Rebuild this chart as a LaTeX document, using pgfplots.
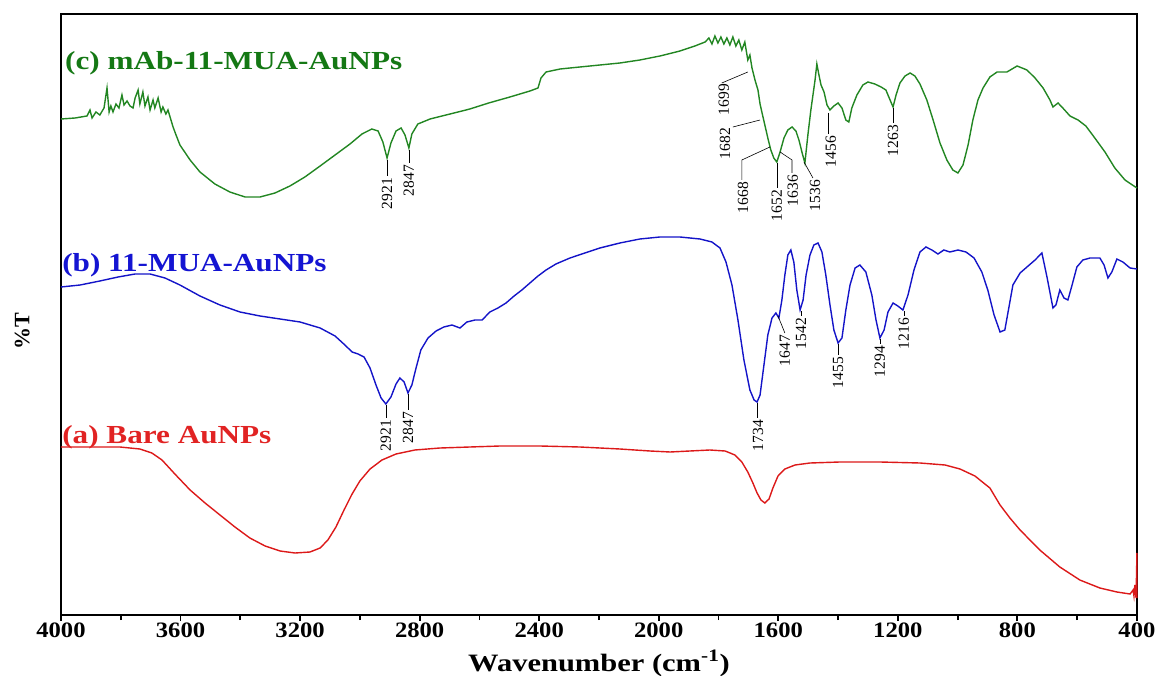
\documentclass[border=0pt]{standalone}
\usepackage{pgfplots}
\pgfplotsset{compat=1.18}
\usepackage{graphicx}
\usepackage{fontspec}
\setmainfont{Liberation Serif}
\definecolor{cgreen}{RGB}{34,134,34}
\definecolor{tgreen}{RGB}{20,120,20}
\definecolor{cblue}{RGB}{20,20,200}
\definecolor{tblue}{RGB}{20,20,210}
\definecolor{cred}{RGB}{220,25,25}
\definecolor{tred}{RGB}{225,35,35}
\newcommand{\ann}{\fontsize{15.5}{15.5}\selectfont}
\newcommand{\serlab}[1]{\scalebox{1.2}[1]{\bfseries\fontsize{26}{26}\selectfont #1}}
\begin{document}
\begin{tikzpicture}
\useasboundingbox (-61pt,-60pt) rectangle (1097pt,615pt);
\begin{axis}[
  at={(0,0)}, anchor=south west,
  scale only axis, width=1076pt, height=601pt,
  x dir=reverse, xmin=400, xmax=4000, ymin=-615, ymax=-14,
  xtick={400,800,...,4000}, minor x tick num=1,
  xtick pos=bottom, tick align=outside,
  major tick length=6pt, minor tick length=5pt,
  ytick=\empty,
  axis line style={line width=2.2pt},
  every tick/.style={line width=1.8pt, black},
  clip=false,
  /pgf/number format/assume math mode=true,
  /pgf/number format/1000 sep={},
  xticklabel={\scalebox{1.12}[1]{\pgfmathprintnumber{\tick}}},
  xticklabel style={font=\bfseries\fontsize{22}{22}\selectfont, inner sep=2pt},
  xlabel={\scalebox{1.22}[1]{\bfseries\fontsize{25}{25}\selectfont Wavenumber (cm\textsuperscript{-1})}},
  xlabel style={at={(axis description cs:0.5,0)}, anchor=base, yshift=-56pt},
]
% (c) green
\addplot[cgreen, line width=1.4pt] coordinates {
(4000,-119)(3953,-118)(3913,-116)(3903,-110)(3896,-118)(3883,-112)(3870,-115)(3856,-108)(3846,-88)
(3839,-112)(3833,-106)(3826,-112)(3816,-104)(3806,-108)(3796,-95)(3789,-105)(3779,-101)(3769,-106)
(3759,-108)(3752,-98)(3742,-90)(3736,-104)(3726,-92)(3719,-106)(3709,-97)(3702,-110)(3692,-100)
(3686,-108)(3675,-98)(3665,-112)(3659,-107)(3649,-114)(3642,-110)(3632,-120)(3625,-127)(3615,-135)
(3602,-145)(3568,-160)(3535,-172)(3485,-184)(3435,-192)(3384,-197)(3334,-197)(3284,-193)(3234,-186)
(3184,-177)(3133,-166)(3083,-155)(3033,-144)(2993,-134)(2960,-129)(2939,-131)(2923,-142)(2909,-158)
(2896,-143)(2879,-131)(2862,-128)(2849,-135)(2836,-148)(2826,-134)(2806,-124)(2765,-119)(2698,-114)
(2632,-109)(2569,-103)(2498,-97)(2431,-91)(2404,-88)(2394,-78)(2377,-72)(2330,-69)(2264,-67)
(2197,-65)(2130,-63)(2063,-60)(1996,-56)(1929,-51)(1879,-46)(1845,-42)
(1832,-38)(1822,-44)(1812,-36)(1802,-43)(1792,-37)(1782,-44)(1772,-38)(1762,-45)(1752,-37)(1742,-46)
(1732,-40)(1722,-50)(1712,-42)(1702,-60)(1695,-55)(1688,-68)(1678,-80)(1668,-90)(1661,-104)(1655,-112)
(1645,-125)(1635,-138)(1625,-150)(1615,-158)(1605,-162)(1594,-152)(1581,-138)(1568,-130)(1554,-127)
(1541,-131)(1531,-140)(1521,-152)(1511,-163)(1501,-135)(1491,-110)(1484,-95)(1477,-80)(1471,-64)
(1464,-75)(1457,-85)(1447,-92)(1437,-105)(1427,-110)(1414,-106)(1400,-103)(1387,-108)(1374,-120)
(1364,-122)(1354,-108)(1337,-95)(1317,-85)(1300,-82)(1277,-84)(1256,-87)(1240,-90)(1226,-100)
(1216,-107)(1206,-95)(1193,-83)(1176,-76)(1159,-73)(1143,-76)(1126,-84)(1103,-100)(1082,-120)
(1059,-143)(1036,-160)(1016,-170)(999,-173)(982,-165)(965,-145)(949,-120)(932,-100)(915,-88)
(892,-77)(868,-72)(835,-72)(801,-66)(768,-70)(741,-78)(714,-88)(691,-100)(681,-107)(664,-103)
(648,-108)(624,-116)(597,-120)(571,-126)(541,-138)(507,-152)(474,-168)(440,-180)(400,-188)
};
% (b) blue
\addplot[cblue, line width=1.4pt] coordinates {
(4000,-287)(3936,-285)(3870,-281)(3809,-277)(3752,-274)(3702,-274)(3652,-278)(3602,-285)(3535,-296)
(3468,-305)(3401,-312)(3334,-316)(3267,-319)(3200,-322)(3133,-328)(3083,-336)(3050,-345)(3026,-352)
(3006,-354)(2986,-357)(2966,-368)(2946,-385)(2929,-398)(2913,-404)(2896,-397)(2879,-384)(2866,-378)
(2852,-382)(2839,-393)(2826,-385)(2812,-368)(2796,-350)(2772,-338)(2745,-331)(2719,-327)(2692,-325)
(2665,-328)(2642,-322)(2615,-320)(2591,-320)(2565,-312)(2538,-308)(2511,-303)(2484,-296)(2458,-290)
(2431,-283)(2404,-276)(2377,-270)(2344,-264)(2297,-258)(2247,-253)(2197,-248)(2130,-243)(2063,-239)
(1996,-237)(1929,-237)(1862,-239)(1822,-242)(1795,-248)(1775,-262)(1755,-285)(1735,-320)(1715,-360)
(1695,-390)(1681,-400)(1671,-402)(1661,-395)(1648,-365)(1635,-335)(1621,-318)(1608,-313)(1598,-318)
(1588,-300)(1578,-275)(1568,-255)(1558,-250)(1548,-262)(1538,-290)(1527,-310)(1517,-300)(1507,-275)
(1494,-255)(1481,-245)(1467,-243)(1454,-252)(1441,-275)(1427,-305)(1414,-330)(1400,-343)(1387,-338)
(1374,-310)(1360,-285)(1343,-268)(1327,-265)(1307,-272)(1287,-295)(1273,-320)(1260,-338)(1246,-330)
(1233,-312)(1216,-303)(1200,-306)(1183,-310)(1166,-295)(1146,-270)(1126,-252)(1106,-247)(1086,-250)
(1066,-254)(1046,-250)(1026,-252)(999,-250)(972,-252)(945,-258)(919,-272)(899,-290)(878,-315)
(858,-332)(842,-330)(815,-285)(791,-273)(768,-267)(741,-260)(718,-253)(701,-277)(681,-308)(671,-305)
(658,-290)(644,-298)(631,-300)(617,-285)(601,-267)(581,-260)(557,-258)(524,-258)(510,-265)(497,-278)
(484,-272)(467,-259)(447,-262)(423,-268)(400,-269)
};
% (a) red
\addplot[cred, line width=1.4pt] coordinates {
(4000,-447)(3903,-447)(3803,-447)(3736,-449)(3696,-453)(3662,-460)(3619,-474)(3568,-490)(3518,-503)
(3468,-515)(3418,-527)(3368,-538)(3317,-546)(3267,-551)(3217,-553)(3167,-552)(3133,-548)(3107,-540)
(3080,-527)(3053,-510)(3026,-494)(3000,-481)(2966,-469)(2926,-460)(2879,-454)(2816,-450)(2732,-448)
(2632,-447)(2531,-446)(2397,-446)(2264,-447)(2130,-449)(2029,-451)(1962,-452)(1896,-451)(1829,-450)
(1778,-451)(1745,-455)(1722,-462)(1702,-472)(1685,-483)(1671,-493)(1658,-500)(1645,-503)(1631,-499)
(1618,-488)(1601,-476)(1578,-469)(1544,-465)(1494,-463)(1394,-462)(1260,-462)(1126,-463)(1042,-465)
(992,-469)(942,-476)(892,-488)(858,-505)(825,-518)(791,-530)(725,-550)(658,-567)(591,-580)(524,-588)
(467,-592)(423,-594)(413,-590)(410,-596)(407,-585)(403,-598)(400,-553)(400,-598)
};
% y label
\node[rotate=90, anchor=center, font=\bfseries\fontsize{22}{22}\selectfont] at (axis description cs:-0.036,0.473) {\%T};
% series labels
\node[anchor=base west, inner sep=0pt, text=tgreen] at (axis description cs:0.0037,0.907) {\serlab{(c) mAb-11-MUA-AuNPs}};
\node[anchor=base west, inner sep=0pt, text=tblue] at (axis description cs:0.001,0.571) {\serlab{(b) 11-MUA-AuNPs}};
\node[anchor=base west, inner sep=0pt, text=tred] at (axis description cs:0.001,0.286) {\serlab{(a) Bare AuNPs}};
% green annotations
\draw[black, line width=0.6pt] (axis cs:2909,-160) -- (axis cs:2909,-176);
\node[rotate=90, anchor=east, inner sep=1pt, font=\ann] at (axis cs:2909,-177) {2921};
\draw[black, line width=0.6pt] (axis cs:2836,-150) -- (axis cs:2836,-163);
\node[rotate=90, anchor=east, inner sep=1pt, font=\ann] at (axis cs:2836,-164) {2847};
\draw[black, line width=0.6pt] (axis cs:1702,-72) -- (axis cs:1789,-83);
\node[rotate=90, anchor=east, inner sep=1pt, font=\ann] at (axis cs:1782,-83) {1699};
\draw[black, line width=0.6pt] (axis cs:1661,-120) -- (axis cs:1752,-127);
\node[rotate=90, anchor=east, inner sep=1pt, font=\ann] at (axis cs:1778,-127) {1682};
\draw[black, line width=0.6pt] (axis cs:1628,-147) -- (axis cs:1722,-160) -- (axis cs:1722,-180);
\node[rotate=90, anchor=east, inner sep=1pt, font=\ann] at (axis cs:1718,-181) {1668};
\draw[black, line width=0.6pt] (axis cs:1605,-163) -- (axis cs:1605,-188);
\node[rotate=90, anchor=east, inner sep=1pt, font=\ann] at (axis cs:1605,-189) {1652};
\draw[black, line width=0.6pt] (axis cs:1594,-152) -- (axis cs:1554,-160) -- (axis cs:1554,-173);
\node[rotate=90, anchor=east, inner sep=1pt, font=\ann] at (axis cs:1551,-174) {1636};
\draw[black, line width=0.6pt] (axis cs:1514,-162) -- (axis cs:1484,-178);
\node[rotate=90, anchor=east, inner sep=1pt, font=\ann] at (axis cs:1477,-179) {1536};
\draw[black, line width=0.6pt] (axis cs:1434,-113) -- (axis cs:1434,-134);
\node[rotate=90, anchor=east, inner sep=1pt, font=\ann] at (axis cs:1424,-135) {1456};
\draw[black, line width=0.6pt] (axis cs:1216,-108) -- (axis cs:1216,-123);
\node[rotate=90, anchor=east, inner sep=1pt, font=\ann] at (axis cs:1216,-124) {1263};
% blue annotations
\draw[black, line width=0.6pt] (axis cs:2913,-405) -- (axis cs:2913,-418);
\node[rotate=90, anchor=east, inner sep=1pt, font=\ann] at (axis cs:2913,-419) {2921};
\draw[black, line width=0.6pt] (axis cs:2839,-394) -- (axis cs:2839,-410);
\node[rotate=90, anchor=east, inner sep=1pt, font=\ann] at (axis cs:2839,-411) {2847};
\draw[black, line width=0.6pt] (axis cs:1671,-403) -- (axis cs:1671,-418);
\node[rotate=90, anchor=east, inner sep=1pt, font=\ann] at (axis cs:1668,-419) {1734};
\draw[black, line width=0.6pt] (axis cs:1601,-316) -- (axis cs:1578,-333);
\node[rotate=90, anchor=east, inner sep=1pt, font=\ann] at (axis cs:1578,-334) {1647};
\draw[black, line width=0.6pt] (axis cs:1524,-311) -- (axis cs:1524,-316);
\node[rotate=90, anchor=east, inner sep=1pt, font=\ann] at (axis cs:1524,-317) {1542};
\draw[black, line width=0.6pt] (axis cs:1400,-344) -- (axis cs:1400,-355);
\node[rotate=90, anchor=east, inner sep=1pt, font=\ann] at (axis cs:1400,-356) {1455};
\draw[black, line width=0.6pt] (axis cs:1260,-339) -- (axis cs:1260,-344);
\node[rotate=90, anchor=east, inner sep=1pt, font=\ann] at (axis cs:1260,-345) {1294};
\draw[black, line width=0.6pt] (axis cs:1180,-311) -- (axis cs:1180,-316);
\node[rotate=90, anchor=east, inner sep=1pt, font=\ann] at (axis cs:1180,-317) {1216};
\end{axis}
\end{tikzpicture}
\end{document}
